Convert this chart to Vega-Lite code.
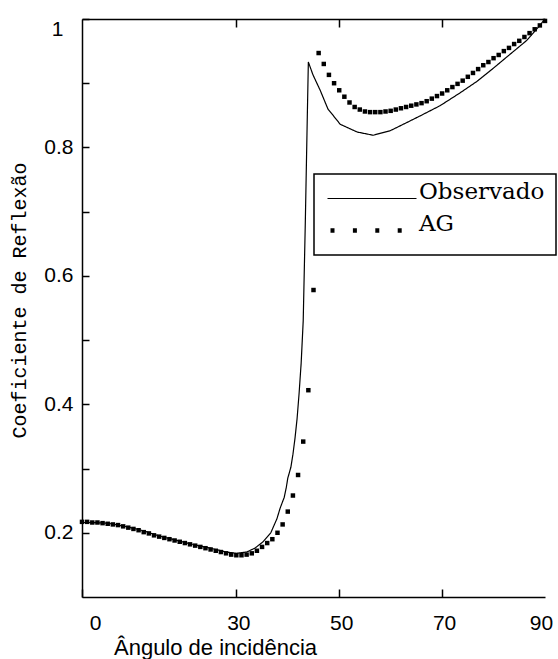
{
  "$schema": "https://vega.github.io/schema/vega-lite/v6.json",
  "width": 463,
  "height": 578,
  "autosize": {"type": "none"},
  "padding": {"left": 82, "top": 19, "right": 13, "bottom": 62},
  "background": "white",
  "config": {
    "view": {"stroke": null},
    "axis": {
      "grid": false,
      "domainColor": "black",
      "domainWidth": 1.5,
      "tickColor": "black",
      "tickWidth": 1.5,
      "labelColor": "black",
      "titleColor": "black",
      "labelFont": "Liberation Sans",
      "labelFontSize": 21
    },
    "legend": {
      "orient": "none",
      "legendX": 232,
      "legendY": 155,
      "padding": 11,
      "clipHeight": 27,
      "rowPadding": 0,
      "symbolType": "stroke",
      "symbolSize": 7921,
      "symbolStrokeColor": "black",
      "symbolOffset": 0,
      "symbolDashOffset": -3,
      "labelOffset": 0,
      "labelFont": "DejaVu Serif",
      "labelFontSize": 23,
      "labelColor": "black",
      "labelBaseline": "alphabetic",
      "labelLimit": 400,
      "strokeColor": "black",
      "strokeWidth": 1.5,
      "fillColor": "white"
    }
  },
  "data": {
    "values": [
      {"series": "Observado", "angle": 0, "coef": 0.216},
      {"series": "Observado", "angle": 2, "coef": 0.216},
      {"series": "Observado", "angle": 5, "coef": 0.215},
      {"series": "Observado", "angle": 7, "coef": 0.212},
      {"series": "Observado", "angle": 9, "coef": 0.209},
      {"series": "Observado", "angle": 12, "coef": 0.203},
      {"series": "Observado", "angle": 15, "coef": 0.195},
      {"series": "Observado", "angle": 19, "coef": 0.187},
      {"series": "Observado", "angle": 22, "coef": 0.181},
      {"series": "Observado", "angle": 25, "coef": 0.176},
      {"series": "Observado", "angle": 28, "coef": 0.17},
      {"series": "Observado", "angle": 30, "coef": 0.168},
      {"series": "Observado", "angle": 32, "coef": 0.17},
      {"series": "Observado", "angle": 33.6, "coef": 0.176},
      {"series": "Observado", "angle": 35.2, "coef": 0.186},
      {"series": "Observado", "angle": 36.7, "coef": 0.2},
      {"series": "Observado", "angle": 37.9, "coef": 0.222},
      {"series": "Observado", "angle": 38.5, "coef": 0.238},
      {"series": "Observado", "angle": 39.3, "coef": 0.255},
      {"series": "Observado", "angle": 39.7, "coef": 0.27},
      {"series": "Observado", "angle": 40.0, "coef": 0.285},
      {"series": "Observado", "angle": 40.6, "coef": 0.302},
      {"series": "Observado", "angle": 41.0, "coef": 0.322},
      {"series": "Observado", "angle": 41.4, "coef": 0.347},
      {"series": "Observado", "angle": 41.8, "coef": 0.377},
      {"series": "Observado", "angle": 42.2, "coef": 0.417},
      {"series": "Observado", "angle": 42.6, "coef": 0.464},
      {"series": "Observado", "angle": 43.0, "coef": 0.53},
      {"series": "Observado", "angle": 43.4, "coef": 0.68},
      {"series": "Observado", "angle": 43.8, "coef": 0.85},
      {"series": "Observado", "angle": 44.0, "coef": 0.933},
      {"series": "Observado", "angle": 44.9, "coef": 0.913},
      {"series": "Observado", "angle": 46.3, "coef": 0.889},
      {"series": "Observado", "angle": 47.8, "coef": 0.86},
      {"series": "Observado", "angle": 50.2, "coef": 0.836},
      {"series": "Observado", "angle": 53.5, "coef": 0.824},
      {"series": "Observado", "angle": 56.6, "coef": 0.819},
      {"series": "Observado", "angle": 59.9, "coef": 0.826},
      {"series": "Observado", "angle": 63.2, "coef": 0.839},
      {"series": "Observado", "angle": 65.7, "coef": 0.849},
      {"series": "Observado", "angle": 69.6, "coef": 0.865},
      {"series": "Observado", "angle": 73.5, "coef": 0.885},
      {"series": "Observado", "angle": 76.8, "coef": 0.903},
      {"series": "Observado", "angle": 79.9, "coef": 0.923},
      {"series": "Observado", "angle": 83.2, "coef": 0.945},
      {"series": "Observado", "angle": 86.5, "coef": 0.967},
      {"series": "Observado", "angle": 89.0, "coef": 0.99},
      {"series": "Observado", "angle": 90, "coef": 1.0},
      {"series": "AG", "angle": 0, "coef": 0.217},
      {"series": "AG", "angle": 1, "coef": 0.217},
      {"series": "AG", "angle": 2, "coef": 0.216},
      {"series": "AG", "angle": 3, "coef": 0.216},
      {"series": "AG", "angle": 4, "coef": 0.215},
      {"series": "AG", "angle": 5, "coef": 0.214},
      {"series": "AG", "angle": 6, "coef": 0.213},
      {"series": "AG", "angle": 7, "coef": 0.212},
      {"series": "AG", "angle": 8, "coef": 0.21},
      {"series": "AG", "angle": 9, "coef": 0.208},
      {"series": "AG", "angle": 10, "coef": 0.206},
      {"series": "AG", "angle": 11, "coef": 0.204},
      {"series": "AG", "angle": 12, "coef": 0.201},
      {"series": "AG", "angle": 13, "coef": 0.199},
      {"series": "AG", "angle": 14, "coef": 0.196},
      {"series": "AG", "angle": 15, "coef": 0.194},
      {"series": "AG", "angle": 16, "coef": 0.192},
      {"series": "AG", "angle": 17, "coef": 0.19},
      {"series": "AG", "angle": 18, "coef": 0.188},
      {"series": "AG", "angle": 19, "coef": 0.186},
      {"series": "AG", "angle": 20, "coef": 0.184},
      {"series": "AG", "angle": 21, "coef": 0.182},
      {"series": "AG", "angle": 22, "coef": 0.18},
      {"series": "AG", "angle": 23, "coef": 0.178},
      {"series": "AG", "angle": 24, "coef": 0.176},
      {"series": "AG", "angle": 25, "coef": 0.174},
      {"series": "AG", "angle": 26, "coef": 0.172},
      {"series": "AG", "angle": 27, "coef": 0.17},
      {"series": "AG", "angle": 28, "coef": 0.168},
      {"series": "AG", "angle": 29, "coef": 0.166},
      {"series": "AG", "angle": 30, "coef": 0.165},
      {"series": "AG", "angle": 31, "coef": 0.165},
      {"series": "AG", "angle": 32, "coef": 0.166},
      {"series": "AG", "angle": 33, "coef": 0.168},
      {"series": "AG", "angle": 34, "coef": 0.172},
      {"series": "AG", "angle": 35, "coef": 0.178},
      {"series": "AG", "angle": 36, "coef": 0.184},
      {"series": "AG", "angle": 37, "coef": 0.19},
      {"series": "AG", "angle": 38, "coef": 0.2},
      {"series": "AG", "angle": 39, "coef": 0.213},
      {"series": "AG", "angle": 40, "coef": 0.233},
      {"series": "AG", "angle": 41, "coef": 0.258},
      {"series": "AG", "angle": 42, "coef": 0.29},
      {"series": "AG", "angle": 43, "coef": 0.342},
      {"series": "AG", "angle": 44, "coef": 0.422},
      {"series": "AG", "angle": 45, "coef": 0.578},
      {"series": "AG", "angle": 46, "coef": 0.947},
      {"series": "AG", "angle": 47, "coef": 0.93},
      {"series": "AG", "angle": 48, "coef": 0.913},
      {"series": "AG", "angle": 49, "coef": 0.9},
      {"series": "AG", "angle": 50, "coef": 0.889},
      {"series": "AG", "angle": 51, "coef": 0.879},
      {"series": "AG", "angle": 52, "coef": 0.87},
      {"series": "AG", "angle": 53, "coef": 0.863},
      {"series": "AG", "angle": 54, "coef": 0.859},
      {"series": "AG", "angle": 55, "coef": 0.856},
      {"series": "AG", "angle": 56, "coef": 0.855},
      {"series": "AG", "angle": 57, "coef": 0.855},
      {"series": "AG", "angle": 58, "coef": 0.855},
      {"series": "AG", "angle": 59, "coef": 0.856},
      {"series": "AG", "angle": 60, "coef": 0.857},
      {"series": "AG", "angle": 61, "coef": 0.859},
      {"series": "AG", "angle": 62, "coef": 0.861},
      {"series": "AG", "angle": 63, "coef": 0.863},
      {"series": "AG", "angle": 64, "coef": 0.865},
      {"series": "AG", "angle": 65, "coef": 0.867},
      {"series": "AG", "angle": 66, "coef": 0.869},
      {"series": "AG", "angle": 67, "coef": 0.872},
      {"series": "AG", "angle": 68, "coef": 0.876},
      {"series": "AG", "angle": 69, "coef": 0.88},
      {"series": "AG", "angle": 70, "coef": 0.884},
      {"series": "AG", "angle": 71, "coef": 0.889},
      {"series": "AG", "angle": 72, "coef": 0.894},
      {"series": "AG", "angle": 73, "coef": 0.899},
      {"series": "AG", "angle": 74, "coef": 0.904},
      {"series": "AG", "angle": 75, "coef": 0.91},
      {"series": "AG", "angle": 76, "coef": 0.916},
      {"series": "AG", "angle": 77, "coef": 0.922},
      {"series": "AG", "angle": 78, "coef": 0.928},
      {"series": "AG", "angle": 79, "coef": 0.933},
      {"series": "AG", "angle": 80, "coef": 0.939},
      {"series": "AG", "angle": 81, "coef": 0.944},
      {"series": "AG", "angle": 82, "coef": 0.95},
      {"series": "AG", "angle": 83, "coef": 0.955},
      {"series": "AG", "angle": 84, "coef": 0.961},
      {"series": "AG", "angle": 85, "coef": 0.966},
      {"series": "AG", "angle": 86, "coef": 0.972},
      {"series": "AG", "angle": 87, "coef": 0.978},
      {"series": "AG", "angle": 88, "coef": 0.984},
      {"series": "AG", "angle": 89, "coef": 0.99},
      {"series": "AG", "angle": 90, "coef": 0.997}
    ]
  },
  "resolve": {"axis": {"x": "independent"}},
  "layer": [
    {
      "transform": [{"filter": "datum.series === 'Observado'"}],
      "mark": {"type": "line", "color": "black", "clip": false},
      "encoding": {
        "x": {
          "field": "angle",
          "type": "quantitative",
          "scale": {"domain": [0, 90], "nice": false, "zero": false},
          "axis": {
            "orient": "bottom",
            "values": [0, 30, 50, 70, 90],
            "tickSize": -8,
            "tickOpacity": {"condition": {"test": "datum.value == 90", "value": 0}, "value": 1},
            "labelPadding": 23,
            "labelBaseline": "top",
            "labelFlush": false,
            "labelOffset": {"condition": [{"test": "datum.value == 0", "value": 13}, {"test": "datum.value == 90", "value": -4}], "value": 2},
            "title": "Ângulo de incidência",
            "titleFont": "Liberation Sans",
            "titleFontSize": 22,
            "titleFontWeight": "normal",
            "titleX": 133,
            "titleY": 57,
            "titleAlign": "center",
            "titleBaseline": "alphabetic"
          }
        },
        "y": {
          "field": "coef",
          "type": "quantitative",
          "scale": {"domain": [0.1, 1], "nice": false, "zero": false},
          "axis": {
            "orient": "left",
            "values": [0.2, 0.3, 0.4, 0.5, 0.6, 0.7, 0.8, 0.9, 1],
            "tickSize": -7,
            "labelPadding": {"condition": {"test": "datum.value > 0.99", "value": 26}, "value": 16},
            "labelOffset": {"condition": {"test": "datum.value > 0.99", "value": 10}, "value": 0},
            "labelExpr": "indexof([2,4,6,8], round(datum.value*10)) >= 0 ? format(datum.value, '.1f') : (round(datum.value*10) == 10 ? '1' : '')",
            "title": "Coeficiente de Reflexão",
            "titleFont": "Liberation Mono",
            "titleFontSize": 20,
            "titleFontWeight": "normal",
            "titleAngle": -90,
            "titleX": -57,
            "titleY": 281,
            "titleAlign": "center",
            "titleBaseline": "alphabetic"
          }
        },
        "strokeDash": {
          "field": "series",
          "type": "ordinal",
          "scale": {"domain": ["Observado", "AG"], "range": [[1, 0], [4, 18.4]]},
          "legend": {
            "title": null,
            "labelExpr": "datum.label == 'AG' ? '\u2002\u2002\u2009AG' : datum.label + '\u2002\u2002'"
          }
        },
        "strokeWidth": {
          "field": "series",
          "type": "ordinal",
          "scale": {"domain": ["Observado", "AG"], "range": [1.2, 4.5]},
          "legend": {
            "title": null,
            "labelExpr": "datum.label == 'AG' ? '\u2002\u2002\u2009AG' : datum.label + '\u2002\u2002'"
          }
        }
      }
    },
    {
      "transform": [{"filter": "datum.series === 'AG'"}],
      "mark": {"type": "square", "color": "black", "size": 20, "opacity": 1, "clip": false},
      "encoding": {
        "x": {
          "field": "angle",
          "type": "quantitative",
          "scale": {"domain": [0, 90], "nice": false, "zero": false},
          "axis": {
            "orient": "top",
            "values": [30, 50, 70],
            "labels": false,
            "tickSize": -8,
            "title": null
          }
        },
        "y": {
          "field": "coef",
          "type": "quantitative"
        }
      }
    }
  ]
}
